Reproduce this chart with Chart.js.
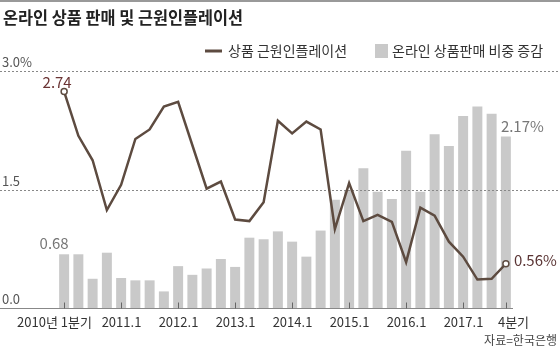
<!DOCTYPE html>
<html>
<head>
<meta charset="utf-8">
<script src="https://cdn.jsdelivr.net/npm/chart.js@4/dist/chart.umd.min.js"></script>
<style>
  html, body { margin: 0; padding: 0; background: #fff; }
  #wrap { width: 560px; height: 349px; }
</style>
</head>
<body>
<div id="wrap"><canvas id="chart" width="560" height="349"></canvas></div>
<script>
// quarters 2010 Q1 .. 2017 Q4
const quarters = [];
for (let y = 2010; y <= 2017; y++) {
    for (let q = 1; q <= 4; q++) quarters.push(y + '.' + q);
}

// core goods inflation (%)
const coreInflation = [
    2.74, 2.18, 1.87, 1.24, 1.56, 2.14, 2.26, 2.55,
    2.61, 2.06, 1.51, 1.60, 1.12, 1.10, 1.34, 2.37,
    2.21, 2.36, 2.26, 1.00, 1.58, 1.10, 1.18, 1.09,
    0.58, 1.27, 1.17, 0.84, 0.65, 0.36, 0.37, 0.56
];

// change in online share of goods sales (%p)
const onlineShare = [
    0.68, 0.68, 0.37, 0.70, 0.38, 0.35, 0.35, 0.21,
    0.53, 0.42, 0.50, 0.62, 0.52, 0.89, 0.87, 0.97,
    0.84, 0.65, 0.98, 1.37, 1.49, 1.77, 1.47, 1.38,
    1.99, 1.47, 2.20, 2.05, 2.43, 2.55, 2.46, 2.17
];

const yTicks = [0, 1.5, 3.0];
const yTickLabels = ['0.0', '1.5', '3.0%'];
// index of quarter -> axis label
const xTickIdx = [0, 4, 8, 12, 16, 20, 24, 28, 31];
const xTickText = ['2010년 1분기', '2011.1', '2012.1', '2013.1', '2014.1', '2015.1', '2016.1', '2017.1', '4분기'];

const LINE_COLOR = '#5d4b40';
const BAR_COLOR = '#c9c9c9';
const KR = '"Noto Sans CJK KR", "Noto Sans", sans-serif';

const decor = {
    id: 'decor',
    beforeDraw(chart) {
        const ctx = chart.ctx;
        ctx.save();
        // top rule
        ctx.fillStyle = '#999';
        ctx.fillRect(0, 0, 560, 2);

        // title
        ctx.fillStyle = '#222';
        ctx.font = 'bold 17px ' + KR;
        ctx.textBaseline = 'middle';
        ctx.textAlign = 'left';
        ctx.fillText('온라인 상품 판매 및 근원인플레이션', 3, 18, 240);

        // legend
        ctx.strokeStyle = LINE_COLOR;
        ctx.lineWidth = 3;
        ctx.beginPath();
        ctx.moveTo(205, 51);
        ctx.lineTo(222, 51);
        ctx.stroke();
        ctx.fillStyle = '#333';
        ctx.font = '14px ' + KR;
        ctx.fillText('상품 근원인플레이션', 228, 51, 124);
        ctx.fillStyle = BAR_COLOR;
        ctx.fillRect(375, 44, 13, 14);
        ctx.fillStyle = '#333';
        ctx.fillText('온라인 상품판매 비중 증감', 392, 51, 164);

        // source
        ctx.font = '12px ' + KR;
        ctx.textAlign = 'right';
        ctx.fillStyle = '#444';
        ctx.fillText('자료=한국은행', 557, 340);
        ctx.restore();
    },
    afterDatasetDraw(chart, args) {
        if (args.index !== 1) return;
        const ctx = chart.ctx;
        const yScale = chart.scales.y;
        const xScale = chart.scales.x;
        const area = chart.chartArea;
        ctx.save();
        // dotted gridlines + y labels
        ctx.font = '13px ' + KR;
        ctx.textAlign = 'left';
        ctx.textBaseline = 'middle';
        yTicks.forEach((v, i) => {
            const y = Math.round(yScale.getPixelForValue(v)) + 0.5;
            if (v > 0) {
                ctx.strokeStyle = '#888';
                ctx.lineWidth = 1;
                ctx.setLineDash([2, 2]);
                ctx.beginPath();
                ctx.moveTo(0, y);
                ctx.lineTo(560, y);
                ctx.stroke();
            }
            ctx.fillStyle = '#555';
            ctx.fillText(yTickLabels[i], 2, y - 9);
        });
        ctx.setLineDash([]);

        // baseline and ticks
        const by = Math.round(yScale.getPixelForValue(0)) + 0.5;
        ctx.strokeStyle = '#888';
        ctx.beginPath();
        ctx.moveTo(0, by);
        ctx.lineTo(area.right, by);
        ctx.stroke();
        ctx.strokeStyle = '#666';
        ctx.font = '13px ' + KR;
        ctx.fillStyle = '#333';
        xTickIdx.forEach((idx, i) => {
            const x = Math.round(xScale.getPixelForValue(idx)) + 0.5;
            ctx.beginPath();
            ctx.moveTo(x, by - 6);
            ctx.lineTo(x, by);
            ctx.stroke();
            let lx = x;
            if (i === 0) lx = x - 10;
            if (i === xTickIdx.length - 1) lx = x + 7;
            ctx.textAlign = 'center';
            ctx.fillText(xTickText[i], lx, by + 14);
        });
        ctx.restore();
    },
    afterDatasetsDraw(chart) {
        const ctx = chart.ctx;
        const xScale = chart.scales.x;
        const yScale = chart.scales.y;
        const last = quarters.length - 1;
        ctx.save();
        ctx.font = '15px ' + KR;
        ctx.textBaseline = 'middle';

        // value callouts
        ctx.textAlign = 'center';
        ctx.fillStyle = '#6b3434';
        ctx.fillText(coreInflation[0].toFixed(2), xScale.getPixelForValue(0) - 7, yScale.getPixelForValue(coreInflation[0]) - 9);
        ctx.fillStyle = '#777';
        ctx.fillText(onlineShare[0].toFixed(2), xScale.getPixelForValue(0) - 10, yScale.getPixelForValue(onlineShare[0]) - 11);
        ctx.textAlign = 'left';
        ctx.fillText(onlineShare[last].toFixed(2) + '%', xScale.getPixelForValue(last) - 5, yScale.getPixelForValue(onlineShare[last]) - 10);
        ctx.fillStyle = '#5a3434';
        ctx.fillText(coreInflation[last].toFixed(2) + '%', xScale.getPixelForValue(last) + 8, yScale.getPixelForValue(coreInflation[last]) - 3);
        ctx.restore();
    }
};

new Chart(document.getElementById('chart'), {
    type: 'bar',
    data: {
        labels: quarters,
        datasets: [
            {
                type: 'line',
                label: '상품 근원인플레이션',
                data: coreInflation,
                borderColor: LINE_COLOR,
                borderWidth: 2.5,
                tension: 0,
                pointRadius: coreInflation.map((v, i) => (i === 0 || i === coreInflation.length - 1) ? 3 : 0),
                pointBackgroundColor: '#fff',
                pointBorderColor: LINE_COLOR,
                pointBorderWidth: 1.5,
                order: 0
            },
            {
                type: 'bar',
                label: '온라인 상품판매 비중 증감',
                data: onlineShare,
                backgroundColor: BAR_COLOR,
                borderWidth: 0,
                categoryPercentage: 1,
                barPercentage: 0.7,
                order: 1
            }
        ]
    },
    options: {
        responsive: false,
        animation: false,
        layout: { padding: { left: 57, right: 47, top: 71, bottom: 41 } },
        plugins: { legend: { display: false }, tooltip: { enabled: false } },
        scales: {
            x: { display: false },
            y: { display: false, min: 0, max: 3 }
        }
    },
    plugins: [decor]
});
</script>
</body>
</html>
